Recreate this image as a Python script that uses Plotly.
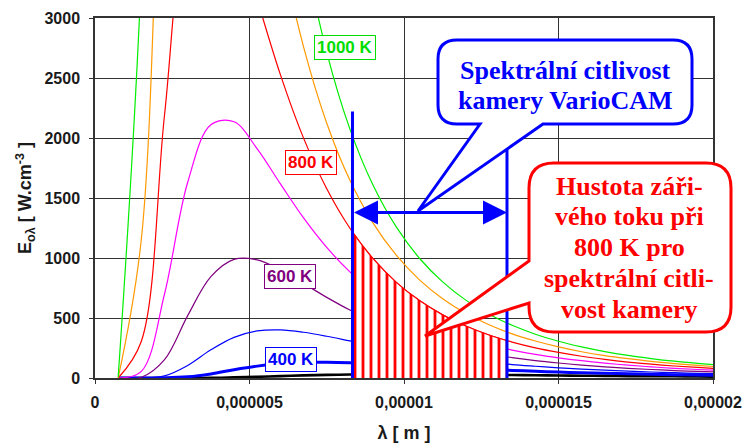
import plotly.graph_objects as go

# ---------------- data ----------------
lam = [0.75e-6, 1.5e-6, 2.25e-6, 3.0e-6, 3.75e-6, 4.5e-6, 5.25e-6, 6.0e-6, 6.75e-6,
       7.5e-6, 8.25e-6, 9.0e-6, 9.75e-6, 10.5e-6, 11.25e-6, 12.0e-6, 12.75e-6, 13.5e-6,
       14.25e-6, 15.0e-6, 15.75e-6, 16.5e-6, 17.25e-6, 18.0e-6, 18.75e-6, 19.5e-6, 20.25e-6]

E1000 = [7, 3364, 10858, 12830, 11119, 8641, 6472, 4811, 3595, 2714, 2074, 1606, 1259, 998,
         801, 649, 531, 439, 365, 306, 259, 220, 188, 162, 140, 122, 106]
E900 = [1, 1158, 5331, 7503, 7205, 5981, 4688, 3602, 2759, 2123, 1647, 1291, 1023, 818,
        661, 539, 444, 368, 308, 259, 219, 187, 161, 138, 120, 105, 91]
E800 = [0, 306, 2192, 3845, 4204, 3796, 3154, 2528, 1999, 1577, 1248, 994, 797, 645,
        526, 433, 358, 299, 251, 213, 181, 155, 133, 115, 100, 88, 77]
E700 = [0, 55, 700, 1631, 2110, 2135, 1909, 1618, 1334, 1088, 884, 719, 587, 482,
        398, 331, 277, 233, 197, 168, 144, 124, 107, 93, 81, 71, 63]
E600 = [0, 6, 153, 520, 844, 988, 984, 901, 788, 672, 566, 474, 397, 333,
        280, 236, 200, 170, 145, 125, 108, 93, 81, 71, 62, 55, 49]
E500 = [0, 0, 18, 105, 235, 339, 392, 401, 381, 348, 309, 270, 234, 202,
        174, 150, 130, 112, 98, 85, 74, 65, 57, 50, 44, 39, 35]
E400 = [0, 0, 1, 10, 34, 69, 99, 120, 130, 131, 127, 119, 109, 99,
        89, 79, 70, 63, 56, 49, 44, 39, 35, 31, 28, 25, 22]
E300 = [0, 0, 0, 0, 1, 5, 10, 16, 22, 26, 29, 31, 31, 31,
        30, 28, 26, 25, 23, 21, 19, 18, 16, 15, 14, 12, 11]

# camera band (spectral sensitivity of VarioCAM) and 800 K curve inside it
band = [8.333e-6, 13.333e-6]
band_tops = [2220, 1905]
arrow_level = 1380
lam_band = [8.333e-6, 9.0e-6, 9.75e-6, 10.5e-6, 11.25e-6, 12.0e-6, 12.75e-6, 13.333e-6]
E800_band = [1216, 994, 797, 645, 526, 433, 358, 311]

x_tickvals = [0, 5e-6, 1e-5, 1.5e-5, 2e-5]
x_ticktext = ["0", "0,000005", "0,00001", "0,000015", "0,00002"]
y_tickvals = [0, 500, 1000, 1500, 2000, 2500, 3000]

series = [
    ("300 K", E300, "#000000", 2.6),
    ("400 K", E400, "#0000FF", 3.0),
    ("500 K", E500, "#0000FF", 1.2),
    ("600 K", E600, "#800080", 1.2),
    ("700 K", E700, "#FF00FF", 1.2),
    ("800 K", E800, "#FF0000", 1.2),
    ("900 K", E900, "#FF9900", 1.2),
    ("1000 K", E1000, "#00EE00", 1.2),
]

curve_labels = [  # text, x, y, colour
    ("1000 K", 8.10e-6, 2754, "#00DD00"),
    ("800 K", 6.99e-6, 1800, "#FF0000"),
    ("600 K", 6.32e-6, 845, "#800080"),
    ("400 K", 6.34e-6, 158, "#0000FF"),
]

blue_text = ["Spektrální citlivost", "kamery VarioCAM"]
red_text = ["Hustota záři-", "vého toku při", "800 K pro", "spektrální citli-", "vost kamery"]

# ---------------- figure ----------------
PL, PR, PT, PB = 95, 713, 18, 378
W, H = 743, 446


def pp(px, py):
    return (px - PL) / (PR - PL), (PB - py) / (PB - PT)


fig = go.Figure()

for name, vals, col, w in series:
    fig.add_trace(go.Scatter(x=lam, y=vals, mode="lines", name=name,
                             line=dict(color=col, width=w, shape="spline", smoothing=1),
                             hoverinfo="skip", showlegend=False))

# hatched area under 800 K curve inside the camera band
fig.add_trace(go.Scatter(x=lam_band, y=E800_band, mode="lines", fill="tozeroy",
                         fillcolor="white",
                         fillpattern=dict(shape="|", fgcolor="#FF0000", bgcolor="white",
                                          fgopacity=1, fillmode="replace",
                                          size=8, solidity=0.35),
                         line=dict(color="#FF0000", width=1.2, shape="spline", smoothing=1),
                         hoverinfo="skip", showlegend=False))

# band limit lines
for bx, bt in zip(band, band_tops):
    fig.add_trace(go.Scatter(x=[bx, bx], y=[0, bt], mode="lines",
                             line=dict(color="#0000FF", width=3),
                             hoverinfo="skip", showlegend=False))

annotations = []
# double arrow
annotations.append(dict(x=band[1], y=arrow_level, ax=band[0], ay=arrow_level,
                        xref="x", yref="y", axref="x", ayref="y", text="",
                        showarrow=True, arrowhead=2, startarrowhead=2, arrowside="end+start",
                        arrowsize=1.6, startarrowsize=1.6, arrowwidth=3, arrowcolor="#0000FF"))

for txt, lx, ly, col in curve_labels:
    annotations.append(dict(x=lx, y=ly, xref="x", yref="y", text=txt, showarrow=False,
                            font=dict(family="Liberation Sans", size=17, color=col, weight="bold"),
                            bgcolor="white", bordercolor=col, borderwidth=1, borderpad=2,
                            xanchor="center", yanchor="middle"))


def bubble_path(x0, y0, x1, y1, r, tail):
    def P(x, y):
        a, b = pp(x, y)
        return f"{a:.5f},{b:.5f}"
    s = f"M{P(x0 + r, y0)} L{P(x1 - r, y0)} Q{P(x1, y0)} {P(x1, y0 + r)} "
    s += f"L{P(x1, y1 - r)} Q{P(x1, y1)} {P(x1 - r, y1)} "
    if tail[0] == "bottom":
        _, bl, br, tip = tail
        s += f"L{P(br, y1)} L{P(*tip)} L{P(bl, y1)} "
    s += f"L{P(x0 + r, y1)} Q{P(x0, y1)} {P(x0, y1 - r)} "
    if tail[0] == "left":
        _, bt, bb, tip = tail
        s += f"L{P(x0, bb)} L{P(*tip)} L{P(x0, bt)} "
    s += f"L{P(x0, y0 + r)} Q{P(x0, y0)} {P(x0 + r, y0)} Z"
    return s


shapes = [
    dict(type="path", xref="paper", yref="paper", layer="above",
         path=bubble_path(438, 40, 692, 124, 19, ("bottom", 480, 543, (418, 211))),
         fillcolor="white", line=dict(color="#0000FF", width=3)),
    dict(type="path", xref="paper", yref="paper", layer="above",
         path=bubble_path(529, 163, 731, 332, 25, ("left", 261, 303, (425, 336))),
         fillcolor="white", line=dict(color="#FF0000", width=3)),
]

for i, t in enumerate(blue_text):
    ax_, ay_ = pp(565, 70 + 31 * i)
    annotations.append(dict(x=ax_, y=ay_, xref="paper", yref="paper", text=f"<b>{t}</b>",
                            showarrow=False, xanchor="center", yanchor="middle",
                            font=dict(family="Liberation Serif", size=26, color="#0000FF")))
for i, t in enumerate(red_text):
    ax_, ay_ = pp(629, 186 + 30.8 * i)
    annotations.append(dict(x=ax_, y=ay_, xref="paper", yref="paper", text=f"<b>{t}</b>",
                            showarrow=False, xanchor="center", yanchor="middle",
                            font=dict(family="Liberation Serif", size=26, color="#FF0000")))

axis_font = dict(family="Liberation Sans", size=16, color="#1a1a1a", weight="bold")
title_font = dict(family="Liberation Sans", size=18, color="#1a1a1a", weight="bold")
fig.update_layout(
    width=W, height=H,
    margin=dict(l=PL, r=W - PR, t=PT, b=H - PB, autoexpand=False),
    paper_bgcolor="white", plot_bgcolor="white",
    showlegend=False,
    xaxis=dict(range=[0, 2e-5], tickvals=x_tickvals, ticktext=x_ticktext,
               showgrid=True, gridcolor="#333333", gridwidth=1.3,
               showline=True, linecolor="#333333", linewidth=1.5, mirror=True,
               ticks="outside", ticklen=4, tickcolor="#333333",
               tickfont=axis_font, ticklabelstandoff=5, zeroline=False,
               title=dict(text="λ [ m ]", font=title_font, standoff=16)),
    yaxis=dict(range=[0, 3000], tickvals=y_tickvals,
               showgrid=True, gridcolor="#333333", gridwidth=1.3,
               showline=True, linecolor="#333333", linewidth=1.5, mirror=True,
               ticks="outside", ticklen=4, tickcolor="#333333",
               tickfont=axis_font, ticklabelstandoff=6, zeroline=False,
               title=dict(text="E<sub>oλ</sub> [ W.cm<sup>-3</sup> ]",
                          font=title_font, standoff=8)),
    shapes=shapes,
    annotations=annotations,
)

fig.write_html("out.html")
